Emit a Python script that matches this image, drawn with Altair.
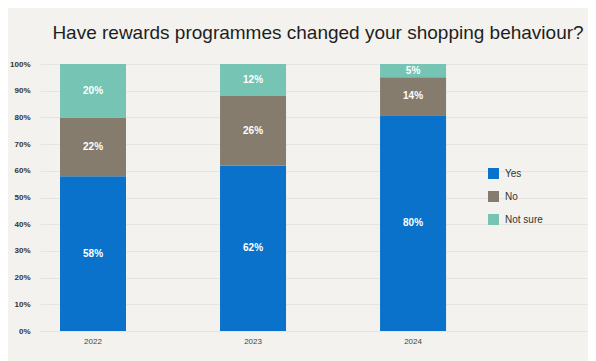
import altair as alt
import pandas as pd

years = ["2022", "2023", "2024"]
answers = ["Yes", "No", "Not sure"]
yes_vals = [58, 62, 80.8]
no_vals = [22, 26, 14.2]
notsure_vals = [20, 12, 5]
yes_labels = ["58%", "62%", "80%"]
no_labels = ["22%", "26%", "14%"]
notsure_labels = ["20%", "12%", "5%"]
colors = ["#0a72cb", "#867c6e", "#75c4b4"]
ticks = list(range(0, 101, 10))

rows = []
for i, yr in enumerate(years):
    for k, (ans, vals, labs) in enumerate(zip(answers, [yes_vals, no_vals, notsure_vals],
                                               [yes_labels, no_labels, notsure_labels])):
        rows.append({"year": yr, "answer": ans, "value": vals[i], "label": labs[i], "ord": k})
df = pd.DataFrame(rows)

base = alt.Chart(df).transform_stack(
    stack="value", groupby=["year"], as_=["y0", "y1"], sort=[alt.SortField("ord", order="ascending")]
).transform_calculate(mid="(datum.y0 + datum.y1) / 2")

xscale = alt.Scale(paddingInner=0.5875, paddingOuter=0.506, align=0.1235)
xaxis = alt.Axis(labelAngle=0, labelFontSize=8, labelColor="#444", labelPadding=6,
                 ticks=False, domainColor="#e6e4e0", labelFont="Liberation Sans")
yscale = alt.Scale(domain=[0, 100])
yaxis = alt.Axis(values=ticks, labelExpr="datum.value + '%'",
                 labelFontSize=8, labelFontWeight="bold", labelColor="#333",
                 labelPadding=10, ticks=False, domain=False, gridColor="#e6e4e0",
                 labelOverlap=False, labelFont="Liberation Sans")

bars = base.mark_bar().encode(
    x=alt.X("year:N", title=None, scale=xscale, axis=xaxis),
    y=alt.Y("y0:Q", title=None, scale=yscale, axis=yaxis),
    y2="y1:Q",
    color=alt.Color("answer:N", scale=alt.Scale(domain=answers, range=colors),
                    legend=alt.Legend(title=None, orient="none", legendX=448, legendY=104,
                                      symbolType="square", symbolSize=121, symbolStrokeWidth=0,
                                      labelFontSize=10, labelColor="#333", rowPadding=12,
                                      labelOffset=6, padding=0, labelFont="Liberation Sans")),
)

texts = base.mark_text(color="white", fontWeight="bold", fontSize=10, font="Liberation Sans").encode(
    x=alt.X("year:N", title=None, scale=xscale, axis=xaxis),
    y=alt.Y("mid:Q", title=None, scale=yscale, axis=yaxis),
    text="label:N",
)

chart = alt.layer(bars, texts).properties(
    width=548, height=267,
    title=alt.TitleParams("Have rewards programmes changed your shopping behaviour?",
                          fontSize=19, fontWeight="normal", color="#1e1e1e",
                          font="Liberation Sans", anchor="middle", offset=17, dx=4),
    background="#f3f2ee",
    padding={"left": 32, "top": 56, "right": 0, "bottom": 30},
    autosize=alt.AutoSizeParams(type="none"),
).configure_view(stroke=None)

chart.save("out.html", embed_options={"renderer": "svg", "actions": False})
